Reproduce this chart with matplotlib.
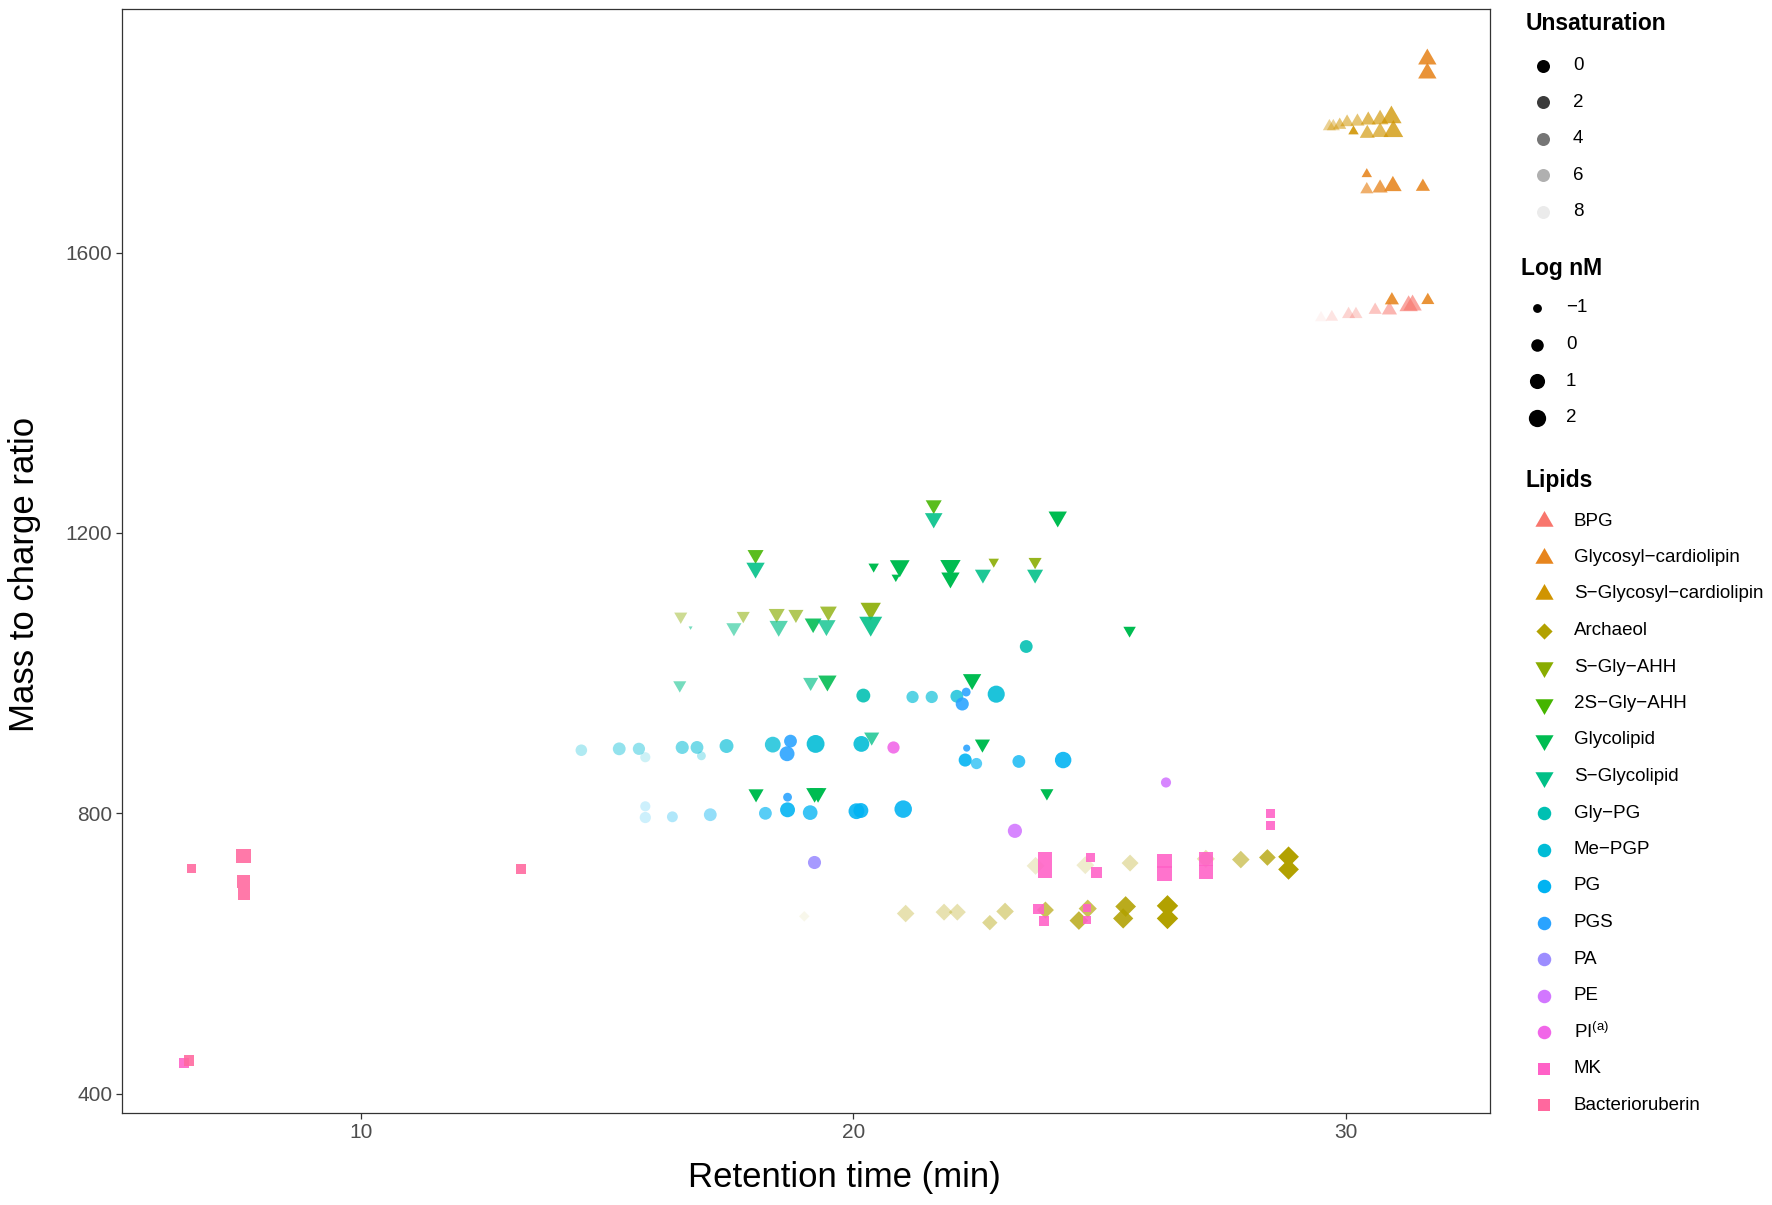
import numpy as np
import matplotlib
matplotlib.use("Agg")
import matplotlib.pyplot as plt

plt.rcParams['font.family'] = ['Liberation Sans', 'DejaVu Sans']
plt.rcParams['mathtext.fontset'] = 'custom'
plt.rcParams['mathtext.rm'] = 'Liberation Sans'

# rows: (retention time min, m/z, unsaturation, log nM)
BPG = [(29.50, 1507, 8, -1.0), (29.72, 1508, 7, -0.9), (30.06, 1512, 6, -0.8),
       (30.21, 1512, 6, -0.8), (30.60, 1518, 5, -0.8), (30.89, 1518, 4, -0.4),
       (31.28, 1524, 3, 0.4), (31.36, 1525, 3, 0.4)]
GLY_CL = [(31.66, 1876, 1, 0.4), (31.66, 1856, 1, 0.4), (30.43, 1712, 1, -1.2),
          (30.43, 1690, 3, -0.8), (30.70, 1692, 2, -0.4), (30.96, 1695, 1, 0.2),
          (31.57, 1694, 1, -0.6), (30.94, 1532, 1, -0.6), (31.67, 1532, 1, -0.8)]
S_GLY_CL = [(29.67, 1780, 5, -0.8), (29.75, 1780, 5, -0.8), (29.88, 1782, 4, -0.8),
            (30.03, 1786, 4, -0.7), (30.24, 1787, 4, -0.6), (30.46, 1789, 3, -0.4),
            (30.70, 1790, 3, 0.0), (30.93, 1793, 2, 1.0), (30.16, 1773, 1, -1.2),
            (30.44, 1770, 3, -0.4), (30.70, 1772, 3, 0.0), (30.97, 1773, 2, 0.8)]
ARCHAEOL = [(19.00, 653, 8, -1.0), (21.06, 657, 6, 0.8), (21.84, 659, 6, 0.6),
            (22.11, 659, 6, 0.6), (22.77, 644, 5, 0.1), (23.08, 660, 5, 0.8),
            (23.70, 725, 7, 0.9), (23.90, 662, 3, 0.6), (24.71, 726, 7, 0.9),
            (24.76, 664, 3, 1.0), (24.58, 647, 2, 1.2), (25.62, 729, 6, 0.6),
            (25.53, 667, 1, 2.0), (25.48, 650, 1, 1.8), (26.38, 668, 0, 2.3),
            (26.38, 650, 0, 2.3), (27.16, 735, 6, 1.0), (27.87, 734, 4, 0.8),
            (28.41, 737, 2, 0.5), (28.84, 738, 0, 2.0), (28.84, 720, 0, 2.0)]
S_GLY_AHH = [(16.49, 1081, 5, -0.8), (17.76, 1082, 4, -0.8), (18.44, 1085, 3, -0.2),
             (18.83, 1084, 3, -0.4), (19.49, 1088, 2, 0.0), (20.35, 1092, 1, 1.0),
             (22.85, 1159, 1, -1.2), (23.69, 1159, 1, -0.8)]
S2_GLY_AHH = [(18.01, 1169, 1, -0.2), (21.63, 1240, 1, -0.2)]
GLYCOLIPID = [(24.15, 1223, 0, 0.4), (20.41, 1152, 0, -1.2), (20.94, 1153, 0, 0.8),
              (20.86, 1137, 0, -1.4), (21.97, 1153, 0, 1.0), (21.97, 1136, 0, 0.4),
              (22.41, 991, 0, 0.4), (22.62, 899, 0, -0.4), (23.93, 829, 0, -0.8),
              (25.61, 1061, 0, -0.9), (18.02, 828, 0, -0.4), (19.21, 829, 0, 0.0),
              (19.28, 829, 0, 0.0), (19.47, 989, 1, 0.4), (19.18, 1071, 1, 0.0)]
S_GLYCOLIPID = [(18.01, 1150, 1, 0.4), (21.63, 1221, 1, 0.2), (22.63, 1141, 1, -0.2),
                (23.69, 1141, 1, -0.2), (20.35, 1071, 1, 1.9), (16.69, 1065, 4, -1.6),
                (17.57, 1065, 4, -0.4), (18.48, 1067, 3, 0.4), (19.45, 1068, 2, 0.4),
                (16.47, 983, 4, -0.8), (19.13, 987, 3, -0.4), (20.37, 909, 2, -0.4)]
GLY_PG = [(23.51, 1038, 1, 0.1), (20.20, 968, 1, 0.5)]
ME_PGP = [(14.47, 890, 6, -0.3), (15.24, 892, 5, 0.1), (15.64, 892, 5, -0.1),
          (15.77, 880, 7, -0.7), (16.52, 894, 4, 0.2), (16.82, 894, 4, 0.1),
          (16.91, 882, 6, -1.0), (17.42, 896, 3, 0.5), (18.36, 898, 2, 1.3),
          (19.23, 899, 1, 2.3), (20.16, 899, 1, 1.3), (21.20, 966, 3, -0.1),
          (21.59, 966, 3, -0.1), (22.10, 967, 2, 0.1), (22.90, 970, 1, 1.9)]
PG = [(15.77, 810, 7, -0.7), (15.77, 794, 7, -0.4), (16.32, 795, 6, -0.5),
      (17.09, 798, 5, 0.1), (18.21, 800, 3, 0.1), (18.66, 805, 1, 0.9),
      (19.12, 801, 2, 0.8), (20.06, 803, 1, 1.3), (20.15, 804, 1, 0.9),
      (21.01, 806, 1, 2.1), (22.27, 876, 1, 0.2), (22.50, 871, 3, -0.4),
      (23.36, 874, 2, 0.1), (24.26, 876, 1, 1.6)]
PGS = [(18.72, 903, 1, 0.1), (18.65, 885, 1, 0.9), (18.66, 823, 1, -1.0),
       (22.29, 973, 1, -1.0), (22.21, 956, 1, 0.2), (22.30, 893, 1, -1.3)]
PA = [(19.19, 731, 1, 0.2)]
PE = [(23.28, 775, 1, 0.6), (26.35, 844, 1, -0.7)]
PI = [(20.80, 894, 1, -0.1)]
MK = [(6.40, 444, 1, -0.3), (23.89, 735, 1, 1.0), (23.89, 717, 1, 1.0),
      (23.76, 664, 1, -0.3), (23.88, 647, 1, -0.3), (24.82, 737, 1, -0.5),
      (24.94, 715, 1, 0.0), (24.75, 665, 1, -1.0), (24.75, 648, 1, -1.0),
      (26.32, 732, 1, 1.9), (26.32, 714, 1, 1.9), (27.16, 735, 1, 1.4),
      (27.16, 716, 1, 1.4), (28.47, 800, 1, -0.7), (28.47, 783, 1, -0.7)]
BACTERIORUBERIN = [(6.50, 447, 1, -0.1), (6.55, 721, 1, -0.5), (7.61, 739, 1, 1.75),
                   (7.61, 703, 1, 0.75), (7.61, 685, 1, 0.3), (13.25, 721, 1, -0.4)]

lipid_names = ['BPG', 'Glycosyl\u2212cardiolipin', 'S\u2212Glycosyl\u2212cardiolipin',
               'Archaeol', 'S\u2212Gly\u2212AHH', '2S\u2212Gly\u2212AHH', 'Glycolipid',
               'S\u2212Glycolipid', 'Gly\u2212PG', 'Me\u2212PGP', 'PG', 'PGS', 'PA',
               'PE', r'PI$^{\mathrm{(a)}}$', 'MK', 'Bacterioruberin']
lipid_rows = [BPG, GLY_CL, S_GLY_CL, ARCHAEOL, S_GLY_AHH, S2_GLY_AHH, GLYCOLIPID,
              S_GLYCOLIPID, GLY_PG, ME_PGP, PG, PGS, PA, PE, PI, MK, BACTERIORUBERIN]
lipid_shapes = ['up'] * 3 + ['diamond'] + ['down'] * 4 + ['circle'] * 7 + ['square'] * 2

unsat_breaks = [0, 2, 4, 6, 8]
lognm_breaks = [-1, 0, 1, 2]


def hcl_hex(h, c=100, l=65):
    # ggplot2 hue palette colour (polar LUV -> sRGB)
    hr = np.radians(h)
    U, V = c * np.cos(hr), c * np.sin(hr)
    Xn, Yn, Zn = 95.047, 100.0, 108.883
    Y = Yn * ((l + 16) / 116) ** 3
    den = Xn + 15 * Yn + 3 * Zn
    u = U / (13 * l) + 4 * Xn / den
    v = V / (13 * l) + 9 * Yn / den
    X = 9 * Y * u / (4 * v)
    Z = -X / 3 - 5 * Y + 3 * Y / v
    rgb = np.array([3.240479 * X - 1.537150 * Y - 0.498535 * Z,
                    -0.969256 * X + 1.875992 * Y + 0.041556 * Z,
                    0.055648 * X - 0.204043 * Y + 1.057311 * Z]) / Yn
    rgb = np.where(rgb > 0.00304, 1.055 * np.abs(rgb) ** (1 / 2.4) - 0.055, 12.92 * rgb)
    return tuple(np.clip(rgb, 0, 1))


n = len(lipid_names)
hues = np.linspace(15, 375 - 360 / n, n)
colours = [hcl_hex(h) for h in hues]

DPI = 100
PX2PT = 72 / DPI
markers = {'circle': ('o', 1.0), 'up': ((3, 0, 0), 1.555), 'down': ((3, 0, 180), 1.555),
           'diamond': ((4, 0, 0), 1.2), 'square': ((4, 0, 45), 1.23)}


def diam_px(v, vmin=-1.6, vmax=2.3):
    r = np.clip((np.asarray(v, float) - vmin) / (vmax - vmin), 0, 1)
    return 2.98 * (1 + 5 * np.sqrt(r))


def alpha_of(u):
    return np.clip(1 - 0.115 * np.asarray(u, float), 0.05, 1)


def msize(d, shape):
    return (d * markers[shape][1] * PX2PT) ** 2


fig = plt.figure(figsize=(17.72, 12.05), dpi=DPI)
W, H = 1772, 1205
ax = fig.add_axes([122 / W, 1 - 1113 / H, (1490 - 122) / W, (1113 - 9) / H])

for rows, shape, col in zip(lipid_rows, lipid_shapes, colours):
    arr = np.array(rows, float)
    rgba = np.zeros((len(arr), 4))
    rgba[:, :3] = col
    rgba[:, 3] = alpha_of(arr[:, 2])
    ax.scatter(arr[:, 0], arr[:, 1], s=msize(diam_px(arr[:, 3]), shape),
               c=rgba, marker=markers[shape][0], linewidths=0)

all_pts = np.vstack([np.array(r, float) for r in lipid_rows])
xr = all_pts[:, 0].min(), all_pts[:, 0].max()
yr = all_pts[:, 1].min(), all_pts[:, 1].max()
ax.set_xlim(xr[0] - 0.05 * (xr[1] - xr[0]), xr[1] + 0.05 * (xr[1] - xr[0]))
ax.set_ylim(yr[0] - 0.05 * (yr[1] - yr[0]), yr[1] + 0.05 * (yr[1] - yr[0]))
ax.set_xticks([10, 20, 30])
ax.set_yticks([400, 800, 1200, 1600])
ax.tick_params(length=4, width=0.9, color='#333333', labelsize=15,
               labelcolor='#4D4D4D', pad=3)
for sp in ax.spines.values():
    sp.set_color('#333333')
    sp.set_linewidth(0.9)

fig.text(844 / W, 1 - 1178 / H, 'Retention time (min)', ha='center', va='center', fontsize=25)
fig.text(25 / W, 1 - 574 / H, 'Mass to charge ratio', ha='center', va='center',
         fontsize=25, rotation=90)

# legends drawn in pixel coordinates on an overlay
lax = fig.add_axes([0, 0, 1, 1])
lax.set_xlim(0, W)
lax.set_ylim(H, 0)
lax.axis('off')

lax.text(1526, 24, 'Unsaturation', fontsize=16.5, fontweight='bold', va='center', ha='left')
for i, u in enumerate(unsat_breaks):
    y = 65.7 + i * 36.5
    lax.scatter([1543], [y], s=msize(13, 'circle'), c=[(0, 0, 0, float(alpha_of(u)))],
                linewidths=0)
    lax.text(1573, y, str(u), fontsize=13.5, va='center', ha='left')

lax.text(1521, 268, 'Log nM', fontsize=16.5, fontweight='bold', va='center', ha='left')
for i, v in enumerate(lognm_breaks):
    y = 308 + i * 36.5
    lax.scatter([1537], [y], s=msize(diam_px(v), 'circle'), c='black', linewidths=0)
    lax.text(1566, y, str(v).replace('-', '\u2212'), fontsize=13.5, va='center', ha='left')

lax.text(1526, 480, 'Lipids', fontsize=16.5, fontweight='bold', va='center', ha='left')
for i, (name, shape, col) in enumerate(zip(lipid_names, lipid_shapes, colours)):
    y = 521 + i * 36.5
    lax.scatter([1544], [y], s=msize(13.5, shape), c=[col], marker=markers[shape][0],
                linewidths=0)
    lax.text(1574, y, name, fontsize=13.5, va='center', ha='left')

fig.savefig('out.png', dpi=DPI)
